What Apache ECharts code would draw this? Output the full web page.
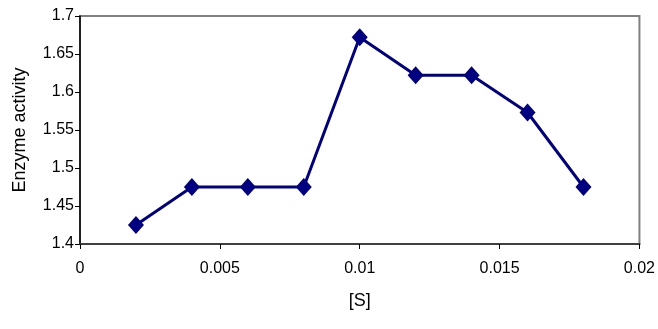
<!DOCTYPE html>
<html><head><meta charset="utf-8">
<script src="https://cdn.jsdelivr.net/npm/echarts@6/dist/echarts.min.js"></script>
<style>html,body{margin:0;padding:0;background:#fff}#c{width:658px;height:329px}</style>
</head><body><div id="c"></div>
<script>
const xValues = [0.002, 0.004, 0.006, 0.008, 0.010, 0.012, 0.014, 0.016, 0.018];
const yValues = [1.425, 1.475, 1.475, 1.475, 1.672, 1.622, 1.622, 1.573, 1.475];
const xTicks = ['0', '0.005', '0.01', '0.015', '0.02'];
const yTicks = ['1.4', '1.45', '1.5', '1.55', '1.6', '1.65', '1.7'];
const xName = '[S]';
const yName = 'Enzyme activity';

const chart = echarts.init(document.getElementById('c'));
const font = 'Liberation Sans, Arial, sans-serif';
chart.setOption({
  animation: false,
  grid: { left: 80, right: 18, top: 16, bottom: 85, show: true, borderColor: '#808080', borderWidth: 2, backgroundColor: '#fff' },
  xAxis: {
    type: 'value', min: 0, max: 0.02, interval: 0.005,
    name: xName, nameLocation: 'middle', nameGap: 48,
    nameTextStyle: { fontFamily: font, fontSize: 18, color: '#000' },
    axisLine: { show: true, lineStyle: { color: '#404040', width: 2 } },
    axisTick: { show: true, length: 5, lineStyle: { color: '#000', width: 1 } },
    axisLabel: { fontFamily: font, fontSize: 16, color: '#000', margin: 17,
      formatter: v => xTicks[Math.round(v / 0.005)] },
    splitLine: { show: false }
  },
  yAxis: {
    type: 'value', min: 1.4, max: 1.7, interval: 0.05,
    name: yName, nameLocation: 'middle', nameGap: 51,
    nameTextStyle: { fontFamily: font, fontSize: 18, color: '#000' },
    axisLine: { show: true, lineStyle: { color: '#000', width: 1.5 } },
    axisTick: { show: true, length: 5, lineStyle: { color: '#000', width: 1 } },
    axisLabel: { fontFamily: font, fontSize: 16, color: '#000', margin: 6,
      formatter: v => yTicks[Math.round((v - 1.4) / 0.05)] },
    splitLine: { show: false }
  },
  series: [{
    type: 'line',
    data: xValues.map((x, i) => [x, yValues[i]]),
    symbol: 'diamond', symbolSize: [16, 18],
    itemStyle: { color: '#000080' },
    lineStyle: { color: '#000080', width: 3 }
  }]
});
</script></body></html>
